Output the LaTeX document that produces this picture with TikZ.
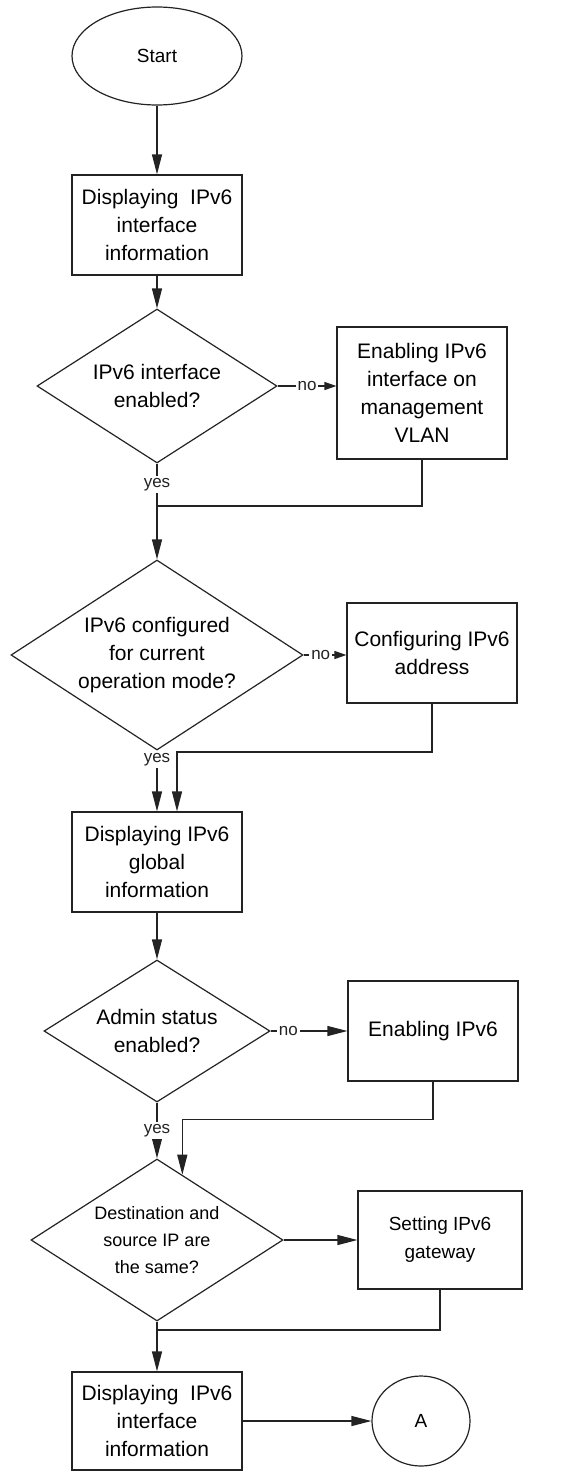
\documentclass[tikz,border=0pt]{standalone}
\usepackage{fontspec}
\setmainfont{Liberation Sans}
\usetikzlibrary{shapes.geometric, arrows.meta, calc}
\definecolor{mydark}{RGB}{35,35,35}
\tikzset{
  procbox/.style={rectangle, draw=mydark, fill=white, align=center,
    minimum width=85pt, minimum height=50pt, inner sep=1pt,
    font=\fontsize{10.5}{14}\selectfont, line width=0.6pt},
  decision/.style={diamond, draw=mydark, fill=white, aspect=1.6, inner sep=0pt,
    align=center, font=\fontsize{10.5}{14}\selectfont, line width=0.6pt},
  terminal/.style={ellipse, draw=mydark, fill=white, inner sep=0pt,
    minimum width=85pt, minimum height=49pt,
    font=\fontsize{9.5}{11}\selectfont, line width=0.6pt},
  arrow/.style={-{Triangle[length=10pt,width=5pt]}, line width=0.6pt, color=mydark},
  shortarrow/.style={-{Triangle[length=6pt,width=4pt]}, line width=0.6pt, color=mydark},
  line/.style={line width=0.6pt, color=mydark},
  lbl/.style={fill=white, inner sep=1pt, font=\fontsize{8.5}{10}\selectfont}
}
\begin{document}
\begin{tikzpicture}[x=0.5pt, y=-0.5pt]
  \useasboundingbox (0,0) rectangle (581,1472);
  % Main column
  \node[terminal] (start) at (157,56) {Start};
  \node[procbox] (dispif) at (157,225) {Displaying\ \ IPv6\\interface\\information};
  \node[decision, minimum width=120pt, minimum height=77pt] (ifen) at (157,386) {IPv6 interface\\enabled?};
  \node[decision, minimum width=146pt, minimum height=95pt] (cfgq) at (157,655) {IPv6 configured\\for current\\operation mode?};
  \node[procbox] (dispglob) at (157,862) {Displaying IPv6\\global\\information};
  \node[decision, minimum width=113pt, minimum height=71pt] (adminq) at (157,1031) {Admin status\\enabled?};
  \node[decision, minimum width=126pt, minimum height=81pt,
    font=\fontsize{9}{13.5}\selectfont] (sameq) at (157,1240) {Destination and\\source IP are\\the same?};
  \node[procbox, minimum height=49pt] (dispif2) at (157,1421) {Displaying\ \ IPv6\\interface\\information};
  % Side column
  \node[procbox, minimum height=66pt] (enif) at (422,393) {Enabling IPv6\\interface on\\management\\VLAN};
  \node[procbox] (cfgaddr) at (432,653) {Configuring IPv6\\address};
  \node[procbox] (enipv) at (433,1031) {Enabling IPv6};
  \node[procbox, minimum width=82pt, minimum height=49pt,
    font=\fontsize{9.5}{14}\selectfont] (setgw) at (440,1240) {Setting IPv6\\gateway};
  \node[terminal, minimum width=49pt, minimum height=45pt] (conA) at (421,1421) {A};
  % Joins
  \coordinate (j1) at (157,506);
  \coordinate (j2) at (177,752);
  \coordinate (s4) at ($(sameq.north)!0.2!(sameq.east)$);
  \coordinate (j3) at ($(s4)+(0,-55)$);
  \coordinate (j4) at (157,1330);
  % Connectors
  \draw[arrow] (start) -- (dispif);
  \draw[arrow] (dispif) -- (ifen);
  \draw[shortarrow] (ifen.east) -- node[lbl]{no} (ifen.east -| enif.west);
  \draw[line] (ifen.south) -- node[lbl]{yes} (j1);
  \draw[line] (enif.south) |- (j1);
  \draw[arrow] (j1) -- (cfgq.north);
  \draw[shortarrow] (cfgq.east) -- node[lbl, pos=0.4]{no} (cfgq.east -| cfgaddr.west);
  \draw[arrow] (cfgq.south) -- node[lbl, pos=0.15]{yes} (dispglob.north);
  \draw[arrow] (cfgaddr.south) |- (j2) -- (j2 |- dispglob.north);
  \draw[arrow] (dispglob) -- (adminq);
  \draw[arrow] (adminq.east) -- node[lbl, pos=0.23]{no} (enipv.west);
  \draw[arrow] (adminq.south) -- node[lbl]{yes} (sameq.north);
  \draw[line] (enipv.south) |- (j3);
  \draw[arrow] (j3) -- (s4);
  \draw[arrow] (sameq.east) -- (setgw.west);
  \draw[line] (setgw.south) |- (j4);
  \draw[arrow] (sameq.south) -- (dispif2.north);
  \draw[arrow] (dispif2.east) -- (conA.west);
\end{tikzpicture}
\end{document}
